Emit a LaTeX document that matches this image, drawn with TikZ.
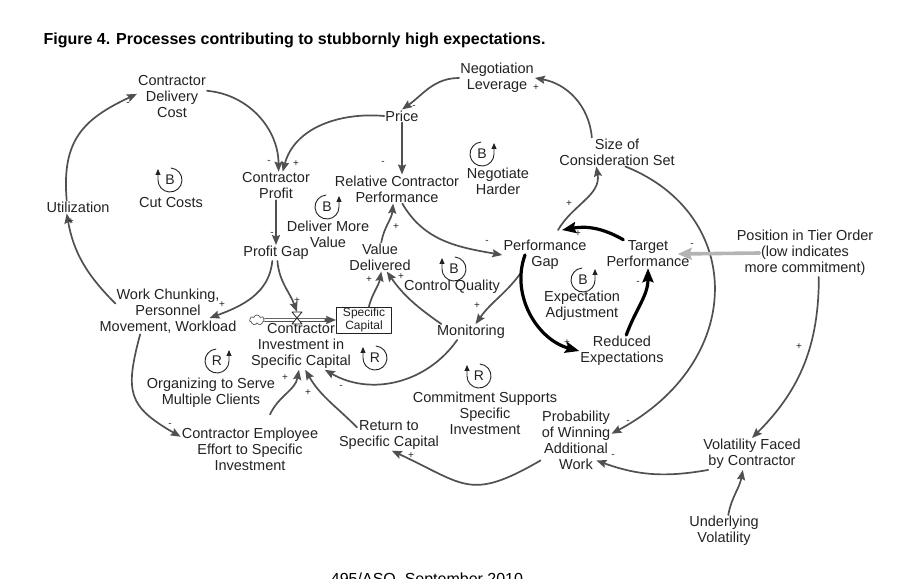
\documentclass[tikz,border=0pt]{standalone}
\usepackage{fontspec}
\setmainfont{Liberation Sans}
\usetikzlibrary{arrows.meta,shapes.symbols}
\definecolor{linkgray}{HTML}{505050}
\definecolor{tiergray}{HTML}{B4B4B4}
\definecolor{inkgray}{HTML}{222222}
\tikzset{
  var/.style={align=center,inner sep=1pt,text=inkgray,font=\fontsize{14.5}{16}\selectfont},
  stock/.style={draw=inkgray,line width=0.8pt,align=center,inner sep=1pt,minimum width=55pt,minimum height=26pt,text=inkgray,font=\fontsize{12}{13}\selectfont},
  link/.style={->,draw=linkgray,line width=1.7pt},
  strong/.style={-{Stealth[length=14pt,width=11pt,inset=2pt]},draw=black,line width=3.2pt},
  tier/.style={-{Stealth[length=14pt,width=12pt,inset=2pt]},draw=tiergray,line width=3.6pt},
  sign/.style={inner sep=0pt,text=inkgray,font=\fontsize{10}{10}\selectfont},
  pipe/.style={draw=linkgray,double=white,double distance=2pt,line width=0.8pt},
  loopl/.pic={
    \draw[draw=inkgray,line width=0.9pt,-{Triangle[length=6pt,width=5pt]}] (85:12) arc[start angle=85,end angle=-180,radius=12] -- ++(0,11);
    \node[var,font=\fontsize{14}{14}\selectfont] (-lbl) {#1};
  },
  loopr/.pic={
    \draw[draw=inkgray,line width=0.9pt,-{Triangle[length=6pt,width=5pt]}] (95:12) arc[start angle=95,end angle=360,radius=12] -- ++(0,11);
    \node[var,font=\fontsize{14}{14}\selectfont] (-lbl) {#1};
  },
}
\begin{document}
\begin{tikzpicture}[line cap=round,line join=round,>={Stealth[length=10pt,width=8pt,inset=1.5pt]},x=1pt,y=1pt]
\useasboundingbox (0,0) rectangle (920,578);
\node[anchor=base west,font=\bfseries\fontsize{16}{16}\selectfont] (title) at (40,533) {Figure 4. Processes contributing to stubbornly high expectations.};
\node[anchor=base,font=\fontsize{16}{16}\selectfont] (folio) at (427,-6.5) {495/ASQ, September 2010};

% variables
\node[var] (cdc) at (172,481) {Contractor\\Delivery\\Cost};
\node[var] (negl) at (497,500) {Negotiation\\Leverage};
\node[var] (price) at (402,462) {Price};
\node[var] (scs) at (617,426) {Size of\\Consideration Set};
\node[var] (cprof) at (276,392) {Contractor\\Profit};
\node[var] (rcp) at (397,389) {Relative Contractor\\Performance};
\node[var] (nh) at (498,397) {Negotiate\\Harder};
\node[var] (util) at (78,371) {Utilization};
\node[var] (cc) at (171,375) {Cut Costs};
\node[var] (dmv) at (328,344) {Deliver More\\Value};
\node[var] (pgap) at (276,325) {Profit Gap};
\node[var] (vd) at (380,321) {Value\\Delivered};
\node[var] (perfgap) at (545,323) {Performance\\Gap};
\node[var] (tp) at (648,324) {Target\\Performance};
\node[var] (pto) at (805,325) {Position in Tier Order\\(low indicates\\more commitment)};
\node[var] (cq) at (452,291) {Control Quality};
\node[var] (ea) at (582,272) {Expectation\\Adjustment};
\node[var] (wc) at (168,267) {Work Chunking,\\Personnel\\Movement, Workload};
\node[stock] (sc) at (364,258) {Specific\\Capital};
\node[var] (cisc) at (301,232) {Contractor\\Investment in\\Specific Capital};
\node[var] (mon) at (471,246) {Monitoring};
\node[var] (re) at (622,227) {Reduced\\Expectations};
\node[var] (osmc) at (211,185) {Organizing to Serve\\Multiple Clients};
\node[var] (csi) at (485,165) {Commitment Supports\\Specific\\Investment};
\node[var] (pwaw) at (576,138) {Probability\\of Winning\\Additional\\Work};
\node[var] (cee) at (250,129) {Contractor Employee\\Effort to Specific\\Investment};
\node[var] (rsc) at (389,143) {Return to\\Specific Capital};
\node[var] (vfc) at (752,124) {Volatility Faced\\by Contractor};
\node[var] (uv) at (724,47) {Underlying\\Volatility};

% flow into the stock
\node[cloud,draw=linkgray,cloud puffs=7,aspect=1.6,minimum width=15pt,minimum height=10pt,inner sep=0pt,line width=0.7pt] (src) at (257,258) {};
\coordinate (valve) at (297,260);
\draw[pipe] (src.east) -- ([xshift=-9pt]sc.west);
\draw[link] ([xshift=-11pt]sc.west) -- (sc.west);
\draw[line width=0.8pt,draw=inkgray,fill=white] ([shift={(-5pt,6pt)}]valve) -- ([shift={(5pt,6pt)}]valve) -- ([shift={(-5pt,-6pt)}]valve) -- ([shift={(5pt,-6pt)}]valve) -- cycle;

% links
\draw[link] (util.150) to[out=95,in=205,looseness=1.2] (cdc.175);
\draw[link] (cdc.10) to[out=-5,in=90] (cprof.80);
\draw[link] (price.west) to[out=175,in=75] (cprof.65);
\draw[link] (negl.west) to[out=180,in=35] (price.north);
\draw[link] (price.south) -- (price.south |- rcp.north);
\draw[link] (scs.150) to[out=95,in=-10] (negl.east);
\draw[link] (cprof.south) -- (pgap.north);
\draw[link] (rcp.-70) to[out=-60,in=170] (perfgap.west);
\draw[link] (vd.85) to[out=80,in=-95] (rcp.-105);
\draw[link] ([shift={(13pt,9pt)}]perfgap.north) to[out=60,in=-80] (scs.215);
\draw[link] (scs.-60) .. controls +(120,-48) and +(135,72) .. (pwaw.10);
\draw[link] (pto.-60) to[out=-90,in=45] (vfc.north);
\draw[link] (vfc.200) to[out=-170,in=-20] ([xshift=-15pt]pwaw.-30);
\draw[link] (uv.75) to[out=80,in=-100] (vfc.-120);
\draw[link] (pwaw.-150) to[out=-150,in=-25,looseness=1.4] (rsc.-80);
\draw[link] ([shift={(-32pt,-8pt)}]rsc.north) to[out=135,in=-60] (cisc.-80);
\draw[link] ([shift={(20pt,12pt)}]cee.north) to[out=65,in=-100] (cisc.-95);
\draw[link] (mon.-150) to[out=-125,in=-30] (cisc.-45);
\draw[link] (mon.165) to[out=145,in=-55] (vd.-65);
\draw[link] (sc.70) to[out=75,in=-100] (vd.-85);
\draw[link] (perfgap.-145) to[out=-125,in=55] (mon.60);
\draw[link] (pgap.-115) to[out=-95,in=20] ([shift={(-28pt,-7pt)}]wc.east);
\draw[link] (pgap.-80) to[out=-85,in=110] ([yshift=6pt]valve);
\draw[link] ([shift={(17pt,-16pt)}]wc.north west) to[out=135,in=-80] (util.-150);
\draw[link] (wc.-140) to[out=-105,in=150,looseness=1.4] (cee.170);
\draw[strong] (tp.150) to[out=150,in=10] ([shift={(17pt,9pt)}]perfgap.north);
\draw[strong] ([xshift=-20pt]perfgap.center) to[out=-110,in=165] (re.west);
\draw[strong] (re.75) to[out=70,in=-90] (tp.south);
\draw[tier] ([xshift=24pt]pto.west) -- ([xshift=-13pt]tp.east);

% polarities
\foreach \p/\s [count=\i] in {{128,474}/-,{269,416}/-,{296,414}/+,{414,471}/-,{383,415}/-,{536,490}/+,
  {272,344}/-,{487,336}/-,{396,351}/+,{569,374}/+,{578,344}/+,{567,235}/+,{638,295}/-,{692,333}/-,
  {628,156}/-,{799,231}/+,{613,122}/-,{411,122}/+,{308,185}/+,{285,200}/+,{341,191}/-,{401,301}/+,
  {369,298}/+,{477,272}/+,{222,273}/+,{297,277}/+,{71,356}/+,{170,153}/-}
  \node[sign] (sign\i) at (\p) {\s};

% loop markers
\pic (lcut) at (170,398) {loopl=B};
\pic (ldeliver) at (327,371) {loopr=B};
\pic (lnegotiate) at (482,424) {loopr=B};
\pic (lquality) at (454,309) {loopl=B};
\pic (lexpect) at (583,298) {loopr=B};
\pic (linvest) at (375,220) {loopl=R};
\pic (lorganize) at (217,217) {loopr=R};
\pic (lcommit) at (479,202) {loopl=R};
\end{tikzpicture}
\end{document}
